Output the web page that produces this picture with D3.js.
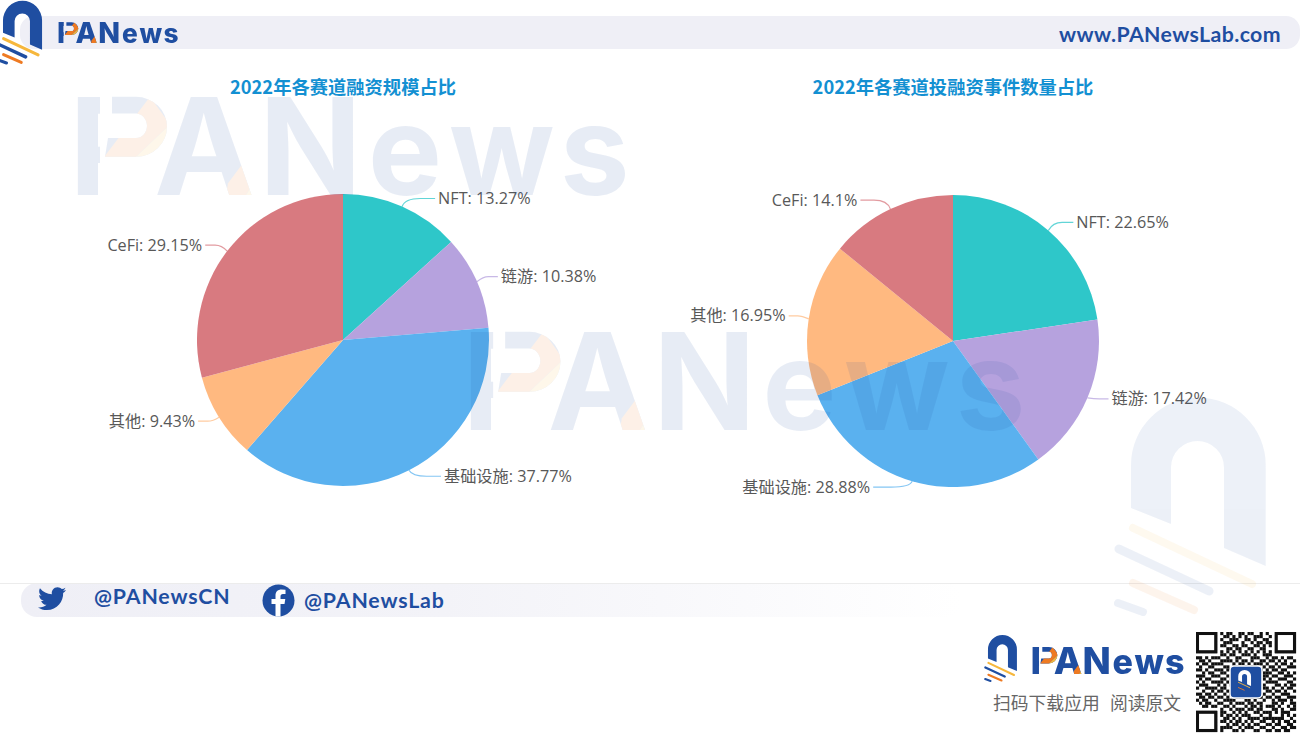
<!DOCTYPE html>
<html><head><meta charset="utf-8">
<script src="https://cdn.jsdelivr.net/npm/d3@7"></script>
<style>html,body{margin:0;padding:0;background:#fff;overflow:hidden}svg{display:block}</style></head>
<body><svg id="c" width="1300" height="742"></svg>
<script>
const categories = ["NFT","链游","基础设施","其他","CeFi"];
const fundingShare = [13.27,10.38,37.77,9.43,29.15];
const fundingLabels = ["13.27%","10.38%","37.77%","9.43%","29.15%"];
const eventShare = [22.65,17.42,28.88,16.95,14.1];
const eventLabels = ["22.65%","17.42%","28.88%","16.95%","14.1%"];
const titles = ["2022年各赛道融资规模占比","2022年各赛道投融资事件数量占比"];
const palette = ["#2ec7c9","#b6a2de","#5ab1ef","#ffb980","#d87a80"];
// label-line end offsets from each slice's outer edge (layout only)
const fundingLabelOffsets = [[33,-8],[21,-5],[32,6],[-21,4],[-22,-6]];
const eventLabelOffsets = [[25,-8],[21,1],[-39,6],[-20,-3],[-30,-9]];
const qrRows = [
"111111101011001101100101001111111","100000100110101010011100101000001","101110101001110011010011001011101",
"101110100111000100101101101011101","101110101100110110011010101011101","100000100011011001100110001000001",
"111111101010101010101010101111111","000000001101100111010011100000000","110101110010011000111001011010110",
"011010001111010110100110110101001","101101111000101101011101001011010","010011000110110010110010110100111",
"110100111011001011001101011011000","001011001100111100110011100110101","111001110011000000000011011001110",
"010110001101000000000010100111001","101001111010000000000001111000110","011100010101000000000010001101011",
"100111101100000000000011010010110","001001011011000000000001101101001","110110100101000000000010010011100",
"011011011010011100101101101100111","101100100111100011010010010111010","010110011001011101101100011010011",
"001101100110100010110101110100101","000000001001011101101100011010011",
"111111101100101010011011101011100","100000101011010111000100100010101","101110100110101001111011111110010",
"101110101101011010100110010101101","101110100010110101011001101100110","100000101111001011100110010011011",
"111111101000110100011001101101100"];

const svg = d3.select("#c");
const navy = "#1f4ea1", orange = "#ee7a22", yellow = "#f6b73c";
const defs = svg.append("defs");
const archPath = "M1131 508 V465 A67 67 0 0 1 1265.7 465 V566 L1224 548 V467.5 A26.5 26.5 0 0 0 1171 467.5 V524 Z";
const stripes = [[1133,528,1252,584,yellow,8],[1119,549,1209,591,navy,9],[1133,583,1194,610,orange,8],[1118,603,1143,612,navy,8]];

function drawLogo(parent, tx, ty, s, opacity, stripeScale){
  const g = parent.append("g").attr("transform",`translate(${tx},${ty}) scale(${s})`).attr("opacity",opacity);
  g.append("path").attr("d",archPath).attr("fill",navy);
  stripes.forEach(d=>g.append("line").attr("x1",d[0]).attr("y1",d[1]).attr("x2",d[2]).attr("y2",d[3])
    .attr("stroke",d[4]).attr("stroke-width",d[5]*(stripeScale||1)).attr("stroke-linecap","round"));
  return g;
}
// glyph origins of the wordmark letters, on a 544-wide design
const glyphX = [-9,76,181,290,371,482];
let clipId = 0;
function wordmark(parent, x, base, width, size, opacity, weight){
  const id = "wm"+(clipId++);
  const h = size*0.727, u = width/544;
  const X = v=>x+v*u, Y = f=>base-f*h;
  const setText = t=>{
    t.attr("y",base).attr("font-family","Inter,Lato,sans-serif").attr("font-weight",weight).attr("font-size",size);
    t.append("tspan").attr("x",glyphX.slice(0,3).map(X).join(" ")).text("PAN");
    t.append("tspan").attr("x",glyphX.slice(3).map(X).join(" ")).attr("font-size",size*0.92).text("ews");
    return t;
  };
  setText(defs.append("clipPath").attr("id",id).append("text"));
  // the P keeps only its stem: the open bowl is drawn separately
  const m = defs.append("mask").attr("id",id+"m").attr("maskUnits","userSpaceOnUse")
    .attr("x",x-20).attr("y",base-size).attr("width",width+40).attr("height",size*1.3);
  m.append("rect").attr("x",x-20).attr("y",base-size).attr("width",width+40).attr("height",size*1.3).attr("fill","#fff");
  m.append("rect").attr("fill","#000").attr("x",X(22)).attr("y",Y(1.1)).attr("width",50*u).attr("height",h*1.2);
  const g = parent.append("g").attr("opacity",opacity);
  setText(g.append("text").attr("mask",`url(#${id}m)`)).attr("fill",navy);
  const rxO=31*u, ryO=0.305*h, rxI=11*u, ryI=0.125*h;
  const bowl = `M${X(34)} ${Y(1)} L${X(58)} ${Y(1)} A${rxO} ${ryO} 0 0 1 ${X(58)} ${Y(0.39)} L${X(27)} ${Y(0.39)} L${X(30)} ${Y(0.58)} L${X(58)} ${Y(0.58)} A${rxI} ${ryI} 0 0 0 ${X(58)} ${Y(0.83)} L${X(34)} ${Y(0.83)} Z`;
  g.append("path").attr("d",bowl).attr("fill",navy);
  defs.append("clipPath").attr("id",id+"b").append("path").attr("d",bowl);
  const poly = (layer,c,p)=>layer.append("path").attr("fill",c).attr("d","M"+p.map(d=>`${X(d[0])} ${Y(d[1])}`).join(" L")+" Z");
  const ob = g.append("g").attr("clip-path",`url(#${id}b)`);
  poly(ob,orange,[[24,0.36],[55,0.36],[92,0.72],[72,1.0]]);
  poly(ob,yellow,[[55,0.36],[92,0.36],[92,0.72]]);
  const oa = g.append("g").attr("clip-path",`url(#${id})`);
  poly(oa,orange,[[148,0.0],[150,0.12],[172,0.42],[180,0.2],[168,0]]);
  poly(oa,yellow,[[168,0],[180,0.2],[190,0]]);
}

// header band
svg.append("rect").attr("x",20).attr("y",16).attr("width",1280).attr("height",33).attr("rx",14).attr("fill","#efeff6");
drawLogo(svg,-325,-114.5,0.29,1,1.3);
wordmark(svg,59,43,118,28.5,1,800);
svg.append("text").attr("x",1281).attr("y",42).attr("text-anchor","end").attr("font-family","Lato,Inter,sans-serif")
  .attr("font-weight",700).attr("font-size",21.3).attr("fill",navy).attr("letter-spacing",0.4).text("www.PANewsLab.com");

// footer
const fg = defs.append("linearGradient").attr("id","footGrad");
fg.append("stop").attr("offset",0).attr("stop-color","#efeff6");
fg.append("stop").attr("offset",0.45).attr("stop-color","#f3f3f8");
fg.append("stop").attr("offset",1).attr("stop-color","#ffffff");
svg.append("rect").attr("x",21).attr("y",583).attr("width",940).attr("height",34).attr("rx",16).attr("fill","url(#footGrad)");
svg.append("line").attr("x1",0).attr("x2",1300).attr("y1",583.5).attr("y2",583.5).attr("stroke","#ececec");
svg.append("path").attr("transform","translate(38,584.5) scale(1.17)").attr("fill",navy)
  .attr("d","M24 4.6c-.9.4-1.8.7-2.8.8 1-.6 1.8-1.6 2.2-2.7-1 .6-2 1-3.1 1.2C19.4 2.9 18.1 2.3 16.7 2.3c-3.2 0-5.5 3-4.8 6C7.800 8.100 4.100 6.100 1.700 3.100.4 5.300 1 8.200 3.200 9.600c-.8 0-1.600-.2-2.200-.6-.1 2.300 1.600 4.400 3.900 4.900-.7.2-1.500.2-2.200.1.6 2 2.400 3.400 4.600 3.400C5.200 19.100 2.600 19.900 0 19.600c2.200 1.400 4.800 2.200 7.500 2.200 9.100 0 14.300-7.700 14-14.600 1-.7 1.800-1.600 2.500-2.600z");
svg.append("circle").attr("cx",278.500).attr("cy",600.5).attr("r",16).attr("fill",navy);
svg.append("path").attr("fill","#fff").attr("d","M275.500 616.500 V604 H271.500 V599 H275.500 V595.500 C275.500 591.500 278 589.500 281.500 589.500 L285.500 589.800 V594 H283 C281.200 594 280.500 595 280.500 596.500 V599 H285.300 L284.500 604 H280.500 V616.500 Z");
const handle = (x,y,t)=>svg.append("text").attr("x",x).attr("y",y).attr("font-family","Lato,Inter,sans-serif").attr("font-weight",700)
  .attr("font-size",21.3).attr("letter-spacing",0.85).attr("fill",navy).text(t);
handle(94,604,"@PANewsCN"); handle(304,608,"@PANewsLab");

// pies
const pieGen = d3.pie().sort(null).value(d=>d);
const R = 146;
const arc = d3.arc().innerRadius(0).outerRadius(R);
function drawPie(cx, cy, values, labels, offsets, title){
  const g = svg.append("g").attr("transform",`translate(${cx},${cy})`);
  const arcs = pieGen(values);
  g.selectAll("path.slice").data(arcs).join("path").attr("class","slice").attr("d",arc).attr("fill",(d,i)=>palette[i]);
  const edge = d3.arc().innerRadius(R).outerRadius(R);
  const bend = d3.arc().innerRadius(R+7).outerRadius(R+7);
  const ends = arcs.map((d,i)=>{const p=edge.centroid(d);return [p[0]+offsets[i][0],p[1]+offsets[i][1]];});
  g.selectAll("path.leader").data(arcs).join("path").attr("class","leader").attr("fill","none").attr("stroke",(d,i)=>palette[i]).attr("stroke-width",1.2).attr("opacity",0.75)
    .attr("d",(d,i)=>{const a=edge.centroid(d),b=bend.centroid(d),e=ends[i];
      const k=[a[0]+(e[0]>a[0]?0.55:-0.55)*Math.abs(e[0]-a[0]),e[1]];
      return `M${a[0]},${a[1]} Q${b[0]},${e[1]} ${k[0]},${e[1]} L${e[0]},${e[1]}`;});
  g.selectAll("text.lab").data(arcs).join("text").attr("class","lab")
    .attr("x",(d,i)=>ends[i][0]+(offsets[i][0]>0?3:-3)).attr("y",(d,i)=>ends[i][1]+5.5)
    .attr("text-anchor",(d,i)=>offsets[i][0]>0?"start":"end")
    .attr("font-family","'Open Sans','Noto Sans CJK SC',sans-serif").attr("font-size",16.2).attr("fill","#585858")
    .text((d,i)=>`${categories[i]}: ${labels[i]}`);
  svg.append("text").attr("x",cx).attr("y",93.5).attr("text-anchor","middle")
    .attr("font-family","'Noto Sans CJK SC',sans-serif").attr("font-weight",700).attr("font-size",18.3).attr("fill","#1390d2").text(title);
}
drawPie(343,340,fundingShare,fundingLabels,fundingLabelOffsets,titles[0]);
drawPie(953,341,eventShare,eventLabels,eventLabelOffsets,titles[1]);

// watermarks, laid over the pies
wordmark(svg,78,195,544,135,0.1,700);
wordmark(svg,471,430,547,135,0.1,700);
drawLogo(svg,0,0,1,0.08);

// footer brand
drawLogo(svg,744.8,549.4,0.215,1,1.2);
wordmark(svg,1033,674,149,37,1,800);
const cta = svg.append("text").attr("y",710).attr("font-family","'Noto Sans CJK SC',sans-serif").attr("font-size",17.8).attr("fill","#666");
cta.append("tspan").attr("x",993).text("扫码下载应用");
cta.append("tspan").attr("x",1110).text("阅读原文");

// QR code
const n = qrRows.length, qrSize = 100;
const qx = d3.scaleBand().domain(d3.range(33)).range([1196,1196+qrSize]);
const qy = d3.scaleBand().domain(d3.range(n)).range([632,632+qrSize]);
const qrG = svg.append("g").attr("fill","#111");
qrRows.forEach((r,y)=>[...r].forEach((c,x)=>{ if(c==="1") qrG.append("rect").attr("x",qx(x)).attr("y",qy(y)).attr("width",qx.bandwidth()+.1).attr("height",qy.bandwidth()+.1); }));
[[0,0],[26,0],[0,26]].forEach(([x,y])=>{
  const w=qx.bandwidth(),h=qy.bandwidth();
  qrG.append("rect").attr("x",qx(x)).attr("y",qy(y)).attr("width",7*w).attr("height",7*h);
  svg.append("rect").attr("x",qx(x)+w).attr("y",qy(y)+h).attr("width",5*w).attr("height",5*h).attr("fill","#fff");
  qrG.append("rect").attr("x",qx(x)+2*w).attr("y",qy(y)+2*h).attr("width",3*w).attr("height",3*h);
});
svg.append("rect").attr("x",1230).attr("y",666).attr("width",32).attr("height",32).attr("rx",4).attr("fill",navy).attr("stroke","#fff").attr("stroke-width",1.5);
const sm = drawLogo(svg,1237-1118*0.095,670-398*0.095,0.095,1,1.2);
sm.select("path").attr("fill","#fff");
</script></body></html>
